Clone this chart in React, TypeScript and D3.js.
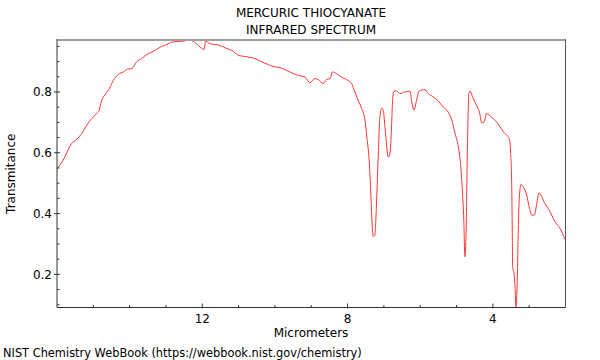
import React from "react";
import * as d3 from "d3";

const titleLines = ["MERCURIC THIOCYANATE", "INFRARED SPECTRUM"];
const xLabel = "Micrometers";
const yLabel = "Transmitance";
const footer = "NIST Chemistry WebBook (https://webbook.nist.gov/chemistry)";

const xTicks = [12, 8, 4];
const xMinorTicks = [15, 14, 13, 11, 10, 9, 7, 6, 5, 3];
const yTicks = [0.2, 0.4, 0.6, 0.8];
const yMinorTicks = [0.1, 0.15, 0.25, 0.3, 0.35, 0.45, 0.5, 0.55, 0.65, 0.7, 0.75, 0.85, 0.9, 0.95];

const micrometers = [
  15.99, 15.83, 15.6, 15.46, 15.32, 15.18, 15.04, 14.91, 14.84, 14.77, 14.68, 14.56, 14.45, 14.31, 14.17, 14.06,
  13.94, 13.81, 13.67, 13.53, 13.39, 13.26, 13.12, 12.98, 12.84, 12.66, 12.48, 12.36, 12.25, 12.11, 12.02, 11.95,
  11.91, 11.79, 11.51, 11.33, 11.19, 11.01, 10.73, 10.55, 10.36, 10.18, 10.05, 9.86, 9.68, 9.49, 9.26, 9.17,
  9.04, 8.9, 8.81, 8.67, 8.58, 8.48, 8.42, 8.3, 8.16, 8.03, 7.89, 7.8, 7.71, 7.61, 7.52, 7.47,
  7.4, 7.36, 7.32, 7.29, 7.25, 7.2, 7.16, 7.11, 7.06, 7.02, 6.97, 6.92, 6.88, 6.83, 6.79, 6.76,
  6.72, 6.65, 6.56, 6.42, 6.28, 6.24, 6.17, 6.1, 6.03, 5.87, 5.78, 5.64, 5.5, 5.37, 5.23, 5.13,
  5.04, 4.95, 4.89, 4.84, 4.8, 4.77, 4.74, 4.7, 4.66, 4.63, 4.54, 4.45, 4.36, 4.31, 4.24, 4.17,
  4.03, 3.94, 3.8, 3.71, 3.62, 3.55, 3.51, 3.48, 3.466, 3.455, 3.438, 3.419, 3.39, 3.364, 3.328, 3.3,
  3.27, 3.226, 3.163, 3.07, 3.0, 2.93, 2.86, 2.79, 2.73, 2.66, 2.57, 2.475, 2.38, 2.29, 2.15, 2.015,
];
const transmittance = [
  0.548, 0.576, 0.63, 0.644, 0.663, 0.691, 0.713, 0.729, 0.74, 0.773, 0.791, 0.811, 0.838, 0.858, 0.866, 0.875,
  0.877, 0.899, 0.91, 0.923, 0.931, 0.94, 0.95, 0.956, 0.964, 0.966, 0.968, 0.971, 0.967, 0.953, 0.944, 0.94,
  0.967, 0.959, 0.953, 0.943, 0.937, 0.921, 0.915, 0.91, 0.899, 0.89, 0.884, 0.88, 0.871, 0.86, 0.852, 0.849,
  0.83, 0.844, 0.841, 0.828, 0.841, 0.844, 0.866, 0.86, 0.849, 0.841, 0.828, 0.8, 0.773, 0.745, 0.707, 0.652,
  0.565, 0.466, 0.356, 0.324, 0.329, 0.444, 0.576, 0.718, 0.747, 0.74, 0.685, 0.619, 0.586, 0.598, 0.685, 0.773,
  0.803, 0.803, 0.795, 0.8, 0.803, 0.773, 0.74, 0.773, 0.803, 0.808, 0.795, 0.784, 0.77, 0.751, 0.734, 0.707,
  0.663, 0.619, 0.565, 0.477, 0.378, 0.258, 0.324, 0.619, 0.795, 0.803, 0.778, 0.756, 0.729, 0.698, 0.701, 0.729,
  0.716, 0.707, 0.685, 0.669, 0.658, 0.647, 0.598, 0.488, 0.346, 0.225, 0.214, 0.205, 0.159, 0.093, 0.181, 0.346,
  0.455, 0.496, 0.488, 0.461, 0.422, 0.395, 0.395, 0.433, 0.468, 0.457, 0.433, 0.417, 0.395, 0.373, 0.351, 0.315,
];

const W = 600;
const H = 360;
const left = 57;
const right = 565.5;
const top = 40;
const bottom = 307.5;
const font = "'DejaVu Sans', sans-serif";

export default function App() {
  const data = micrometers.map((m, i) => [m, transmittance[i]] as [number, number]);
  const x = d3.scaleLinear().domain([16, 2]).range([left, right]);
  const ext = d3.extent(transmittance) as [number, number];
  const y = d3.scaleLinear().domain([ext[0] - 0.002, ext[1]]).range([bottom, top]);
  const line = d3
    .line<[number, number]>()
    .x((d) => x(d[0]))
    .y((d) => y(d[1]))
    .curve(d3.curveMonotoneX);
  const path = line(data) || "";

  return (
    <svg
      width={W}
      height={H}
      style={{ position: "absolute", left: 0, top: 0, background: "#fff" }}
      fontFamily={font}
    >
      {titleLines.map((t, i) => (
        <text key={t} x={311} y={17 + i * 17} textAnchor="middle" fontSize={12} fill="#000">
          {t}
        </text>
      ))}
      <path d={path} fill="none" stroke="#ff3333" strokeWidth={1} strokeLinejoin="round" />
      {/* frame */}
      <line x1={left} x2={right} y1={top} y2={top} stroke="#a0a0a0" strokeWidth={2} />
      <line x1={right} x2={right} y1={top - 1} y2={bottom} stroke="#555" strokeWidth={1} />
      <line x1={left} x2={left} y1={top - 1} y2={bottom} stroke="#333" strokeWidth={1} />
      <line x1={left} x2={right} y1={bottom} y2={bottom} stroke="#333" strokeWidth={1} />
      {/* y ticks */}
      {yTicks.map((t) => (
        <g key={t}>
          <line x1={left - 3} x2={left + 3} y1={y(t)} y2={y(t)} stroke="#333" />
          <text x={left - 5} y={y(t)} dy="0.35em" textAnchor="end" fontSize={12} fill="#000">
            {t.toFixed(1)}
          </text>
        </g>
      ))}
      {yMinorTicks.map((t) => (
        <line key={t} x1={left} x2={left + 2.5} y1={y(t)} y2={y(t)} stroke="#333" />
      ))}
      {/* x ticks */}
      {xTicks.map((t) => (
        <g key={t}>
          <line x1={x(t)} x2={x(t)} y1={bottom - 4} y2={bottom + 1} stroke="#333" />
          <text x={x(t)} y={bottom + 15} textAnchor="middle" fontSize={12} fill="#000">
            {t}
          </text>
        </g>
      ))}
      {xMinorTicks.map((t) => (
        <line key={t} x1={x(t)} x2={x(t)} y1={bottom - 2.5} y2={bottom} stroke="#333" />
      ))}
      <text x={311} y={337} textAnchor="middle" fontSize={12} fill="#000">
        {xLabel}
      </text>
      <text
        transform={`translate(15, ${(top + bottom) / 2}) rotate(-90)`}
        textAnchor="middle"
        fontSize={12}
        fill="#000"
      >
        {yLabel}
      </text>
      <text x={3} y={357} fontSize={11.4} fill="#000">
        {footer}
      </text>
    </svg>
  );
}
